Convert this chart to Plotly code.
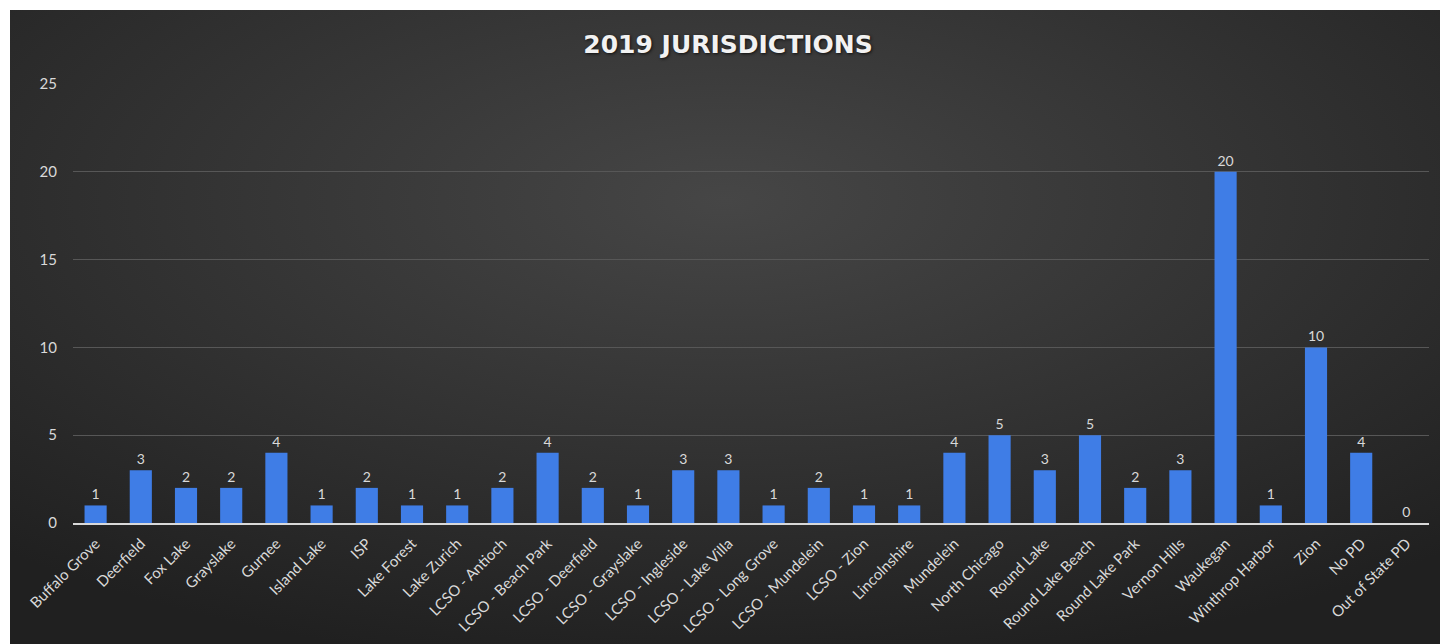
import base64
import plotly.graph_objects as go

categories = ["Buffalo Grove", "Deerfield", "Fox Lake", "Grayslake", "Gurnee", "Island Lake", "ISP",
              "Lake Forest", "Lake Zurich", "LCSO - Antioch", "LCSO - Beach Park", "LCSO - Deerfield",
              "LCSO - Grayslake", "LCSO - Ingleside", "LCSO - Lake Villa", "LCSO - Long Grove",
              "LCSO - Mundelein", "LCSO - Zion", "Lincolnshire", "Mundelein", "North Chicago",
              "Round Lake", "Round Lake Beach", "Round Lake Park", "Vernon Hills", "Waukegan",
              "Winthrop Harbor", "Zion", "No PD", "Out of State PD"]
counts = [1, 3, 2, 2, 4, 1, 2, 1, 1, 2, 4, 2, 1, 3, 3, 1, 2, 1, 1, 4, 5, 3, 5, 2, 3, 20, 1, 10, 4, 0]
y_ticks = [0, 5, 10, 15, 20, 25]
title_text = "2019 JURISDICTIONS"

svg = """<svg xmlns='http://www.w3.org/2000/svg' width='1430' height='634' viewBox='0 0 1430 634' preserveAspectRatio='none'>
<defs><radialGradient id='g' cx='50%' cy='30%' r='75%'>
<stop offset='0%' stop-color='#464646'/><stop offset='100%' stop-color='#202020'/></radialGradient></defs>
<rect width='1430' height='634' fill='url(#g)'/></svg>"""
bg_uri = "data:image/svg+xml;base64," + base64.b64encode(svg.encode()).decode()

W, H = 1440, 644
L, R, T, B = 73, 11, 84, 121
pw, ph = W - L - R, H - T - B
x0 = (10 - L) / pw
x1 = (W - L) / pw
y_top = (H - B - 10) / ph
y_bot = (H - B - H) / ph

fig = go.Figure(go.Bar(
    x=categories, y=counts,
    marker=dict(color="#3f7de6", line=dict(width=0)),
    text=[str(v) for v in counts], textposition="outside",
    textfont=dict(color="#d9d9d9", size=14, family="Lato"),
    cliponaxis=False,
))

fig.update_layout(
    width=W, height=H,
    margin=dict(l=L, r=R, t=T, b=B, autoexpand=False),
    paper_bgcolor="white", plot_bgcolor="rgba(0,0,0,0)",
    bargap=0.51,
    showlegend=False,
    title=dict(text="<b>" + title_text + "</b>", x=728 / W, xanchor="center",
               y=1 - 44 / H, yanchor="middle",
               font=dict(color="#f2f2f2", size=25, family="DejaVu Sans",
                         shadow="1px 1px 3px #111")),
    font=dict(family="Lato", color="#d9d9d9"),
    images=[dict(source=bg_uri, xref="paper", yref="paper", x=x0, y=y_top,
                 sizex=x1 - x0, sizey=y_top - y_bot, sizing="stretch",
                 xanchor="left", yanchor="top", layer="below")],
)
fig.update_xaxes(tickangle=-45, tickfont=dict(size=15, color="#d9d9d9"), showgrid=False,
                 showline=True, linecolor="#d9d9d9", linewidth=2, ticks="",
                 ticklabelstandoff=4, automargin=False)
fig.update_yaxes(range=[0, 25], tickvals=y_ticks, tickfont=dict(size=15, color="#d9d9d9"),
                 gridcolor="#575757", gridwidth=1, zeroline=False, showline=False,
                 ticklabelstandoff=15, automargin=False)

fig.write_html("out.html", config={"displayModeBar": False},
               post_script="document.body.style.margin='0';")
